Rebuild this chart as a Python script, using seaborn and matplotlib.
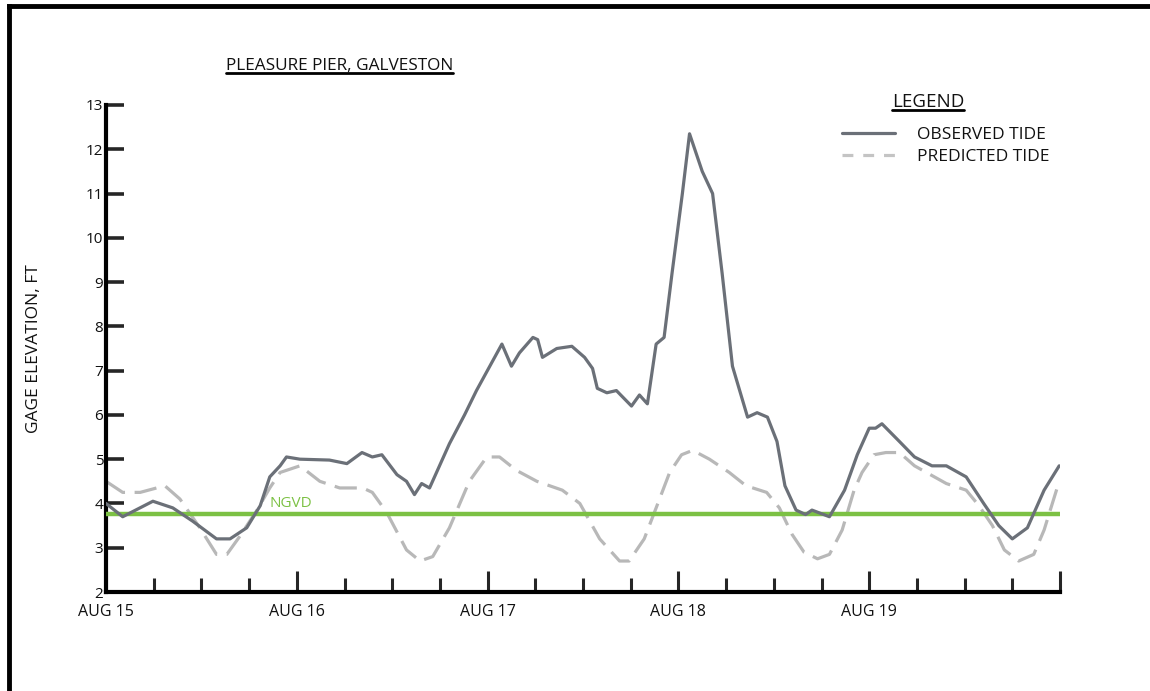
import numpy as np
import pandas as pd
import seaborn as sns
import matplotlib.pyplot as plt
from matplotlib.lines import Line2D

# hours after midnight, AUG 15 ; gage elevation in feet
obs_hours = [0, 2.1, 5.9, 8.4, 10.9, 13.9, 15.6, 17.7, 19.4, 20.6, 21.9, 22.7, 24.4,
             28.1, 30.3, 32.2, 33.5, 34.7, 36.6, 37.8, 38.8, 39.7, 40.7, 43.2, 45.1,
             46.6, 49.8, 51.0, 52.0, 53.7, 54.3, 54.9, 56.7, 58.6, 60.2, 61.2, 61.8,
             63.0, 64.2, 66.1, 67.1, 68.1, 69.2, 70.2, 71.2, 72.5, 73.4, 75.0, 76.3,
             77.5, 78.8, 80.7, 81.9, 83.2, 84.4, 85.4, 86.8, 88.0, 88.8, 91.0, 92.9,
             94.5, 96.0, 96.8, 97.6, 99.8, 101.7, 103.9, 105.7, 108.2, 110.4, 112.3,
             114.0, 115.9, 118.0, 119.9]
obs_ft = [4.0, 3.7, 4.05, 3.9, 3.6, 3.2, 3.2, 3.45, 3.95, 4.6, 4.85, 5.05, 5.0,
          4.98, 4.9, 5.15, 5.05, 5.1, 4.65, 4.5, 4.2, 4.45, 4.35, 5.35, 6.0,
          6.55, 7.6, 7.1, 7.4, 7.75, 7.7, 7.3, 7.5, 7.55, 7.3, 7.05, 6.6,
          6.5, 6.55, 6.2, 6.45, 6.25, 7.6, 7.75, 9.2, 11.0, 12.35, 11.5, 11.0,
          9.2, 7.1, 5.95, 6.05, 5.95, 5.4, 4.4, 3.85, 3.75, 3.85, 3.7, 4.3,
          5.1, 5.7, 5.7, 5.8, 5.4, 5.05, 4.85, 4.85, 4.6, 4.0, 3.5,
          3.2, 3.45, 4.3, 4.85]

pred_hours = [0, 2.1, 4.3, 7.4, 9.3, 11.8, 13.9, 15.2, 16.8, 19.0, 20.6, 21.9, 24.4,
              26.9, 29.4, 32.3, 33.5, 35.3, 37.8, 39.5, 41.1, 43.2, 45.7, 47.9, 49.5,
              51.6, 54.2, 57.4, 59.6, 62.1, 64.6, 65.8, 67.7, 69.2, 70.9, 72.4, 73.8,
              75.9, 78.4, 80.5, 83.1, 84.7, 86.3, 87.8, 89.5, 91.0, 92.6, 94.1, 95.1,
              96.6, 98.1, 99.8, 101.7, 105.7, 108.2, 109.8, 111.5, 113.0, 114.8, 116.7,
              118.0, 119.9]
pred_ft = [4.5, 4.25, 4.25, 4.4, 4.1, 3.45, 2.85, 2.85, 3.25, 3.85, 4.35, 4.7, 4.85,
           4.5, 4.35, 4.35, 4.25, 3.8, 2.95, 2.7, 2.8, 3.45, 4.5, 5.05, 5.05,
           4.75, 4.5, 4.3, 4.0, 3.2, 2.7, 2.7, 3.2, 3.9, 4.7, 5.1, 5.2,
           5.0, 4.7, 4.4, 4.25, 3.9, 3.3, 2.9, 2.75, 2.85, 3.4, 4.3, 4.7,
           5.1, 5.15, 5.15, 4.85, 4.45, 4.3, 3.95, 3.5, 2.95, 2.7, 2.85,
           3.4, 4.5]

ngvd = 3.76
day_ticks = [0, 24, 48, 72, 96, 120]
day_labels = ["AUG 15", "AUG 16", "AUG 17", "AUG 18", "AUG 19", ""]
y_ticks = list(range(2, 14))

obs_color = "#6b7078"
pred_color = "#b8b8b8"
green = "#7cc144"

sns.set_style("white")
plt.rcParams["font.family"] = ["Open Sans", "DejaVu Sans"]

W, H = 1150, 691
fig = plt.figure(figsize=(W / 100, H / 100), dpi=100)
ax = fig.add_axes([106 / W, 1 - 592 / H, (1060 - 106) / W, (592 - 105) / H])

obs = pd.DataFrame({"hours": obs_hours, "ft": obs_ft})
pred = pd.DataFrame({"hours": pred_hours, "ft": pred_ft})

sns.lineplot(data=pred, x="hours", y="ft", ax=ax, color=pred_color, lw=2.3,
             linestyle=(0, (7, 3)), sort=False, estimator=None, zorder=2)
ax.axhline(ngvd, color=green, lw=3.2, zorder=3)
sns.lineplot(data=obs, x="hours", y="ft", ax=ax, color=obs_color, lw=2.3,
             sort=False, estimator=None, zorder=4)
ax.text(23.3, ngvd + 0.08, "NGVD", color=green, fontsize=11, ha="center", va="bottom")

ax.set_xlim(0, 120)
ax.set_ylim(2, 13)
for s in ["top", "right"]:
    ax.spines[s].set_visible(False)
for s in ["left", "bottom"]:
    ax.spines[s].set_linewidth(3)
    ax.spines[s].set_color("black")
    ax.spines[s].set_capstyle("projecting")

ax.set_yticks(y_ticks)
ax.set_xticks(day_ticks)
ax.set_xticklabels(day_labels)
ax.set_xticks(np.arange(6, 120, 6), minor=True)
ax.tick_params(axis="y", direction="in", length=13, width=2.6, pad=2, labelsize=11,
               left=True, labelcolor="#111111")
ax.tick_params(axis="x", which="major", direction="in", length=15, width=2.2, pad=9,
               labelsize=11.5, bottom=True, labelcolor="#111111")
ax.tick_params(axis="x", which="minor", direction="in", length=10, width=2.2, bottom=True)
ax.set_xlabel("")
ax.set_ylabel("GAGE ELEVATION, FT", fontsize=12.5, color="#111111")
ax.yaxis.set_label_coords(-0.067, 0.5)
ax.grid(False)

handles = [Line2D([], [], color=obs_color, lw=2.3),
           Line2D([], [], color="#c4c4c4", lw=2.3, linestyle=(0, (3.4, 3.1)))]
ax.legend(handles, ["OBSERVED TIDE", "PREDICTED TIDE"], loc="upper left",
          bbox_to_anchor=(842 / W, 1 - 127 / H), bbox_transform=fig.transFigure,
          frameon=False, fontsize=12.5, handlelength=3.05, handletextpad=1.26,
          borderpad=0, borderaxespad=0, labelspacing=0.35, labelcolor="#111111")

title = fig.text(226 / W, 1 - 66 / H, "PLEASURE PIER, GALVESTON", fontsize=12.4,
                 ha="left", va="center", color="#111111")
leg_title = fig.text(928 / W, 1 - 102 / H, "LEGEND", fontsize=13.5,
                     ha="center", va="center", color="#111111")

# underline the two headings
fig.canvas.draw()
inv = fig.transFigure.inverted()
for t in [title, leg_title]:
    bb = t.get_window_extent()
    (x0, y0), (x1, _) = inv.transform([(bb.x0, bb.y0 + 1), (bb.x1, bb.y0 + 1)])
    fig.add_artist(Line2D([x0, x1], [y0, y0], color="black", lw=2))

# page frame (top and left edges)
fig.add_artist(Line2D([8.5 / W, 1], [1 - 6 / H, 1 - 6 / H], color="black", lw=3.5,
                      solid_capstyle="projecting"))
fig.add_artist(Line2D([8.5 / W, 8.5 / W], [1 - 6 / H, 0], color="black", lw=3.5,
                      solid_capstyle="projecting"))

fig.savefig("out.png", dpi=100)
